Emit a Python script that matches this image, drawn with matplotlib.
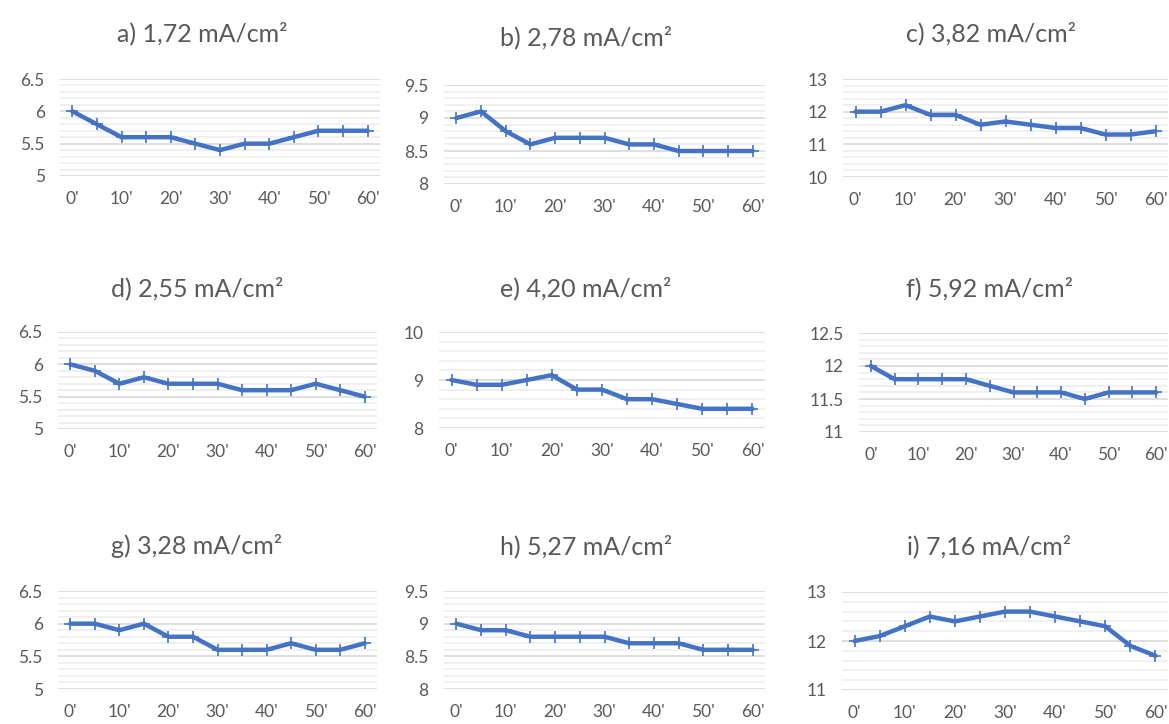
import matplotlib
matplotlib.use("Agg")
import matplotlib.pyplot as plt
from matplotlib.ticker import MultipleLocator

categories = ["0'", "5'", "10'", "15'", "20'", "25'", "30'", "35'", "40'", "45'", "50'", "55'", "60'"]

titles = ["a) 1,72 mA/cm²", "b) 2,78 mA/cm²", "c) 3,82 mA/cm²",
          "d) 2,55 mA/cm²", "e) 4,20 mA/cm²", "f) 5,92 mA/cm²",
          "g) 3,28 mA/cm²", "h) 5,27 mA/cm²", "i) 7,16 mA/cm²"]

a_vals = [6.0, 5.8, 5.6, 5.6, 5.6, 5.5, 5.4, 5.5, 5.5, 5.6, 5.7, 5.7, 5.7]
b_vals = [9.0, 9.1, 8.8, 8.6, 8.7, 8.7, 8.7, 8.6, 8.6, 8.5, 8.5, 8.5, 8.5]
c_vals = [12.0, 12.0, 12.2, 11.9, 11.9, 11.6, 11.7, 11.6, 11.5, 11.5, 11.3, 11.3, 11.4]
d_vals = [6.0, 5.9, 5.7, 5.8, 5.7, 5.7, 5.7, 5.6, 5.6, 5.6, 5.7, 5.6, 5.5]
e_vals = [9.0, 8.9, 8.9, 9.0, 9.1, 8.8, 8.8, 8.6, 8.6, 8.5, 8.4, 8.4, 8.4]
f_vals = [12.0, 11.8, 11.8, 11.8, 11.8, 11.7, 11.6, 11.6, 11.6, 11.5, 11.6, 11.6, 11.6]
g_vals = [6.0, 6.0, 5.9, 6.0, 5.8, 5.8, 5.6, 5.6, 5.6, 5.7, 5.6, 5.6, 5.7]
h_vals = [9.0, 8.9, 8.9, 8.8, 8.8, 8.8, 8.8, 8.7, 8.7, 8.7, 8.6, 8.6, 8.6]
i_vals = [12.0, 12.1, 12.3, 12.5, 12.4, 12.5, 12.6, 12.6, 12.5, 12.4, 12.3, 11.9, 11.7]

series = [a_vals, b_vals, c_vals, d_vals, e_vals, f_vals, g_vals, h_vals, i_vals]

# y axis (min, max, major step)
y_axes = [(5, 6.5, 0.5), (8, 9.5, 0.5), (10, 13, 1),
          (5, 6.5, 0.5), (8, 10, 1), (11, 12.5, 0.5),
          (5, 6.5, 0.5), (8, 9.5, 0.5), (11, 13, 1)]

# plot areas in pixels: left, right, top, bottom
boxes = [(60, 380, 79, 176), (444, 765, 85, 184), (843, 1168, 79, 177),
         (58, 377, 332, 429), (439, 765, 332, 428), (859, 1168, 333, 432),
         (58, 377, 591, 689), (444, 765, 591, 689), (842, 1168, 592, 690)]

title_pos = [(202, 33), (586, 37), (991, 33),
             (197, 288), (586, 288), (990, 288),
             (197, 546), (586, 546), (989, 546)]

W, H = 1169, 724
fig = plt.figure(figsize=(W / 100, H / 100), dpi=100)
fig.patch.set_facecolor("white")

txt_color = "#595959"
line_color = "#4472C4"
font = ["Lato", "DejaVu Sans"]

x = list(range(len(categories)))
for k in range(9):
    l, r, t, b = boxes[k]
    ax = fig.add_axes([l / W, 1 - b / H, (r - l) / W, (b - t) / H])
    ymin, ymax, step = y_axes[k]
    ax.set_ylim(ymin, ymax)
    ax.set_xlim(-0.5, len(categories) - 0.5)
    ax.yaxis.set_major_locator(MultipleLocator(step))
    ax.yaxis.set_minor_locator(MultipleLocator(step / 5))
    ax.grid(which="major", axis="y", color="#d9d9d9", lw=1.2, zorder=0)
    ax.grid(which="minor", axis="y", color="#eeeeee", lw=1.2, zorder=0)
    ax.set_axisbelow(True)
    for s in ax.spines.values():
        s.set_visible(False)
    ax.set_xticks(x[::2])
    ax.set_xticklabels(categories[::2])
    ax.tick_params(axis="both", which="both", length=0, labelsize=12.5, labelcolor=txt_color)
    ax.tick_params(axis="x", pad=11)
    ax.tick_params(axis="y", pad=11)
    for lab in ax.get_xticklabels() + ax.get_yticklabels():
        lab.set_fontfamily(font)
    ax.yaxis.set_major_formatter(matplotlib.ticker.FuncFormatter(lambda v, p: f"{v:g}"))
    ax.plot(x, series[k], color=line_color, lw=3.2, marker="+", markersize=9,
            markeredgewidth=1.2, zorder=3, solid_capstyle="round")
    tx, ty = title_pos[k]
    fig.text(tx / W, 1 - ty / H, titles[k], ha="center", va="center",
             fontsize=18, color=txt_color, family=font)

fig.savefig("out.png", dpi=100)
